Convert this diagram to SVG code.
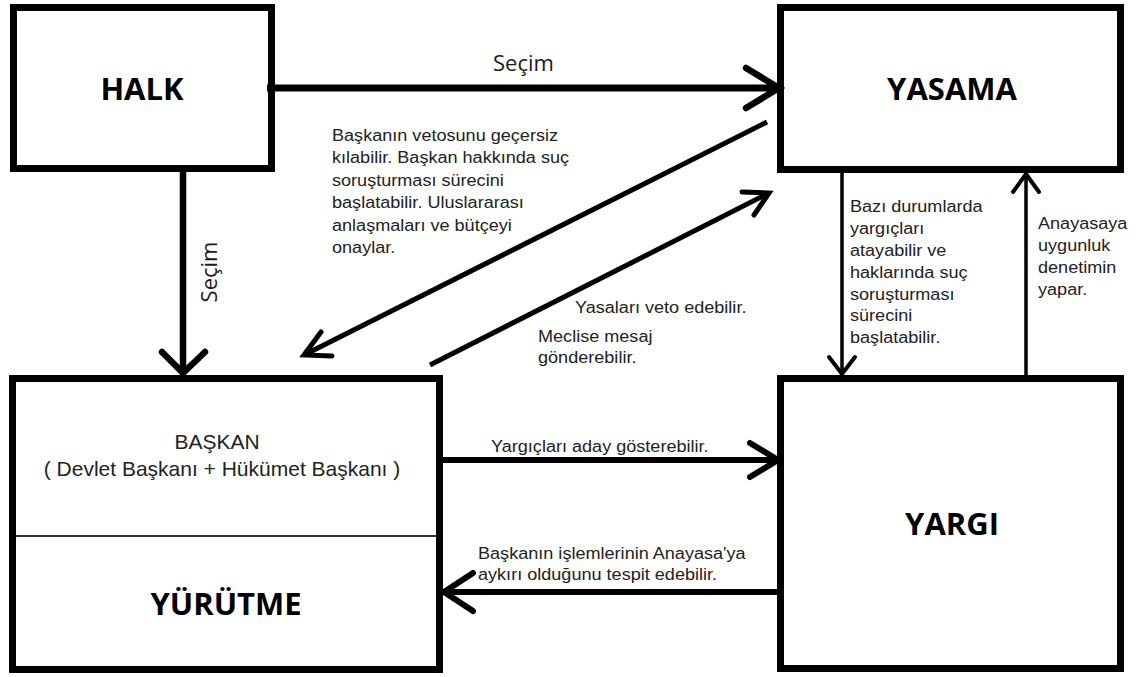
<svg xmlns="http://www.w3.org/2000/svg" width="1140" height="677" viewBox="0 0 1140 677">
  <style>
    .box { fill: #ffffff; stroke: #000000; stroke-width: 7; }
    .title { font-family: "Open Sans", "Liberation Sans", sans-serif; font-weight: bold; font-size: 31px; fill: #000000; text-anchor: middle; }
    .sub { font-family: "Liberation Sans", Arial, sans-serif; font-size: 21px; fill: #222222; text-anchor: middle; }
    .lbl { font-family: "Liberation Sans", Arial, sans-serif; font-size: 16px; fill: #222222; }
    .sec { font-family: "Open Sans", "Liberation Sans", sans-serif; font-size: 22px; fill: #1b1b1b; }
    .ln { stroke: #000000; fill: none; stroke-linecap: butt; }
    .hd { stroke: #000000; fill: none; stroke-linecap: round; stroke-linejoin: miter; }
  </style>
  <rect width="1140" height="677" fill="#ffffff"/>

  <g id="halk">
    <rect class="box" x="13.5" y="7.5" width="258" height="161"/>
    <text class="title" x="142" y="100">HALK</text>
  </g>

  <g id="yasama">
    <rect class="box" x="780.5" y="7.5" width="340" height="162"/>
    <text class="title" x="952" y="100">YASAMA</text>
  </g>

  <g id="yurutme">
    <rect class="box" x="12.5" y="378.5" width="427" height="291"/>
    <line x1="16" y1="536" x2="436" y2="536" stroke="#333333" stroke-width="2"/>
    <text class="sub" x="217" y="449">BAŞKAN</text>
    <text class="sub" x="222" y="476">( Devlet Başkanı + Hükümet Başkanı )</text>
    <text class="title" x="226" y="615">YÜRÜTME</text>
  </g>

  <g id="yargi">
    <rect class="box" x="780.5" y="378.5" width="340" height="290"/>
    <text class="title" x="952" y="535">YARGI</text>
  </g>

  <g id="connectors">
    <!-- HALK -> YASAMA -->
    <line class="ln" x1="267" y1="88" x2="779" y2="88" stroke-width="7"/>
    <path class="hd" d="M746,68 L779,88 L746,108" stroke-width="6.5"/>
    <text class="sec" x="493" y="71">Seçim</text>

    <!-- HALK -> YURUTME -->
    <line class="ln" x1="183" y1="172" x2="183" y2="373" stroke-width="6.5"/>
    <path class="hd" d="M162,352 L183,373 L205,352" stroke-width="6.5"/>
    <text class="sec" transform="translate(217,272) rotate(-90)" text-anchor="middle">Seçim</text>

    <!-- YASAMA -> YURUTME diagonal -->
    <line class="ln" x1="767" y1="122" x2="304" y2="355" stroke-width="5"/>
    <path class="hd" d="M321,332 L304,355 L332,356" stroke-width="5"/>

    <!-- YURUTME -> YASAMA diagonal -->
    <line class="ln" x1="430" y1="365" x2="769" y2="193" stroke-width="5"/>
    <path class="hd" d="M742,192 L769,193 L754,215" stroke-width="5"/>

    <!-- YASAMA -> YARGI -->
    <line class="ln" x1="842" y1="172" x2="842" y2="374" stroke-width="3.5"/>
    <path class="hd" d="M829,357 L842,374 L855,357" stroke-width="4"/>

    <!-- YARGI -> YASAMA -->
    <line class="ln" x1="1026" y1="376" x2="1026" y2="174" stroke-width="3.5"/>
    <path class="hd" d="M1013,192 L1026,174 L1039,192" stroke-width="4"/>

    <!-- YURUTME -> YARGI -->
    <line class="ln" x1="443" y1="460" x2="778" y2="460" stroke-width="6"/>
    <path class="hd" d="M750,443 L778,460 L750,477" stroke-width="6"/>

    <!-- YARGI -> YURUTME -->
    <line class="ln" x1="778" y1="592" x2="444" y2="592" stroke-width="6"/>
    <path class="hd" d="M473,573 L444,592 L473,611" stroke-width="6"/>
  </g>

  <g id="labels">
    <g transform="translate(332,141) scale(1.13,1)">
      <text class="lbl">
        <tspan x="0" y="0">Başkanın vetosunu geçersiz</tspan>
        <tspan x="0" dy="22.4">kılabilir. Başkan hakkında suç</tspan>
        <tspan x="0" dy="22.4">soruşturması sürecini</tspan>
        <tspan x="0" dy="22.4">başlatabilir. Uluslararası</tspan>
        <tspan x="0" dy="22.4">anlaşmaları ve bütçeyi</tspan>
        <tspan x="0" dy="22.4">onaylar.</tspan>
      </text>
    </g>
    <g transform="translate(575,313) scale(1.13,1)">
      <text class="lbl" x="0" y="0">Yasaları veto edebilir.</text>
    </g>
    <g transform="translate(538,342) scale(1.13,1)">
      <text class="lbl">
        <tspan x="0" y="0">Meclise mesaj</tspan>
        <tspan x="0" dy="21.5">gönderebilir.</tspan>
      </text>
    </g>
    <g transform="translate(850,212) scale(1.13,1)">
      <text class="lbl">
        <tspan x="0" y="0">Bazı durumlarda</tspan>
        <tspan x="0" dy="21.9">yargıçları</tspan>
        <tspan x="0" dy="21.9">atayabilir ve</tspan>
        <tspan x="0" dy="21.9">haklarında suç</tspan>
        <tspan x="0" dy="21.9">soruşturması</tspan>
        <tspan x="0" dy="21.9">sürecini</tspan>
        <tspan x="0" dy="21.9">başlatabilir.</tspan>
      </text>
    </g>
    <g transform="translate(1038,229) scale(1.13,1)">
      <text class="lbl">
        <tspan x="0" y="0">Anayasaya</tspan>
        <tspan x="0" dy="22">uygunluk</tspan>
        <tspan x="0" dy="22">denetimin</tspan>
        <tspan x="0" dy="22">yapar.</tspan>
      </text>
    </g>
    <g transform="translate(491,452) scale(1.13,1)">
      <text class="lbl" x="0" y="0">Yargıçları aday gösterebilir.</text>
    </g>
    <g transform="translate(478,559) scale(1.13,1)">
      <text class="lbl">
        <tspan x="0" y="0">Başkanın işlemlerinin Anayasa'ya</tspan>
        <tspan x="0" dy="21">aykırı olduğunu tespit edebilir.</tspan>
      </text>
    </g>
  </g>
</svg>
